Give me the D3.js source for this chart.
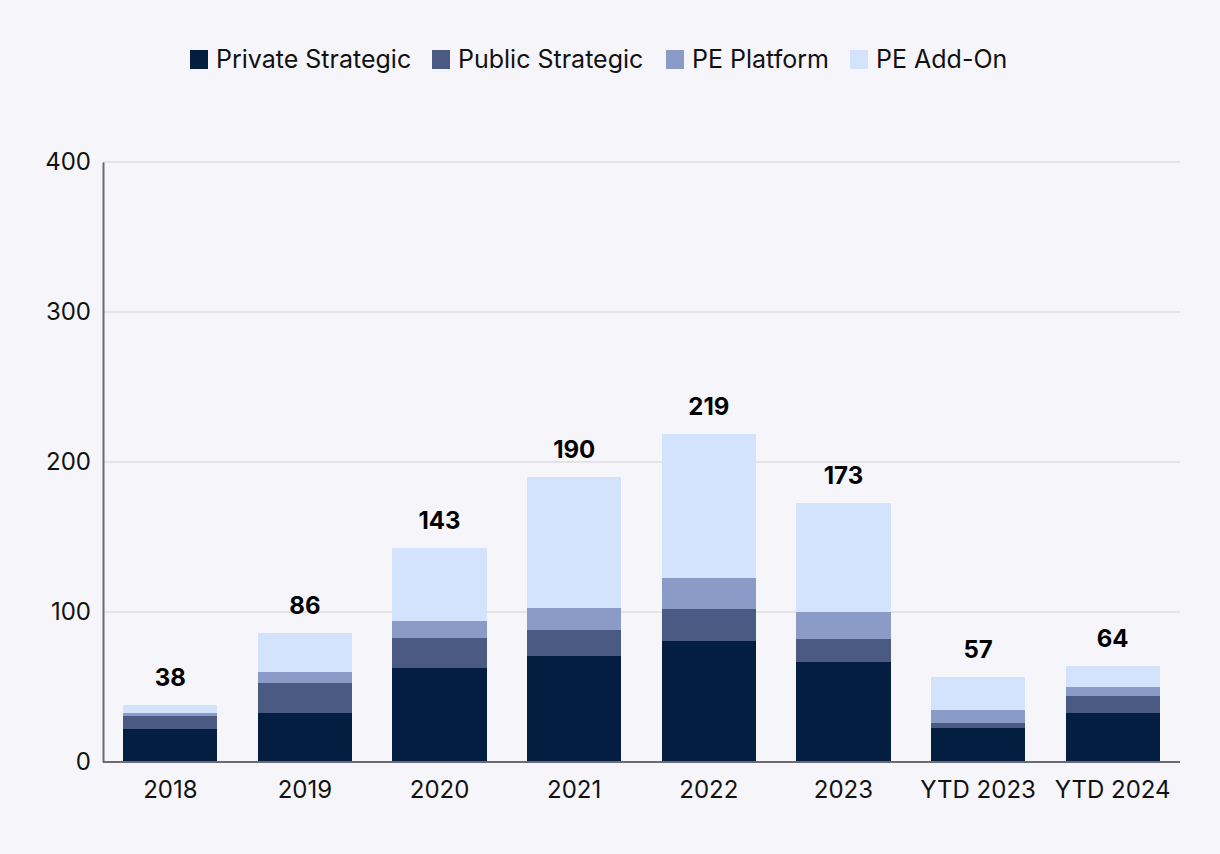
<!DOCTYPE html>
<html>
<head>
<meta charset="utf-8">
<script src="https://cdn.jsdelivr.net/npm/d3@7"></script>
<style>
  html, body { margin: 0; padding: 0; background: #f5f5fa; }
  svg { display: block; }
  text { font-family: Inter, "Noto Sans", sans-serif; }
</style>
</head>
<body>
<svg id="chart" width="1220" height="854"></svg>
<script>
const categories = ["2018", "2019", "2020", "2021", "2022", "2023", "YTD 2023", "YTD 2024"];
const seriesNames = ["Private Strategic", "Public Strategic", "PE Platform", "PE Add-On"];
const privateStrategic = [22, 33, 63, 71, 81, 67, 23, 33];
const publicStrategic  = [9, 20, 20, 17, 21, 15, 3, 11];
const pePlatform       = [2, 7, 11, 15, 21, 18, 9, 6];
const peAddOn          = [5, 26, 49, 87, 96, 73, 22, 14];
const totals           = [38, 86, 143, 190, 219, 173, 57, 64];
const yTicks = [0, 100, 200, 300, 400];
const colors = ["#041e42", "#4a5a82", "#8b9bc8", "#d3e2fd"];

const svg = d3.select("#chart");
const margin = { left: 103, right: 40, top: 162, bottom: 92 };
const W = 1220, H = 854;
const x0 = margin.left, x1 = W - margin.right;
const y0 = H - margin.bottom, y1 = margin.top;

const rows = categories.map((c, i) => ({
  cat: c,
  "Private Strategic": privateStrategic[i],
  "Public Strategic": publicStrategic[i],
  "PE Platform": pePlatform[i],
  "PE Add-On": peAddOn[i],
  total: totals[i]
}));

const x = d3.scaleBand().domain(categories).range([x0, x1]).paddingInner(0.3).paddingOuter(0.15);
const y = d3.scaleLinear().domain([0, 400]).range([y0, y1]);
const color = d3.scaleOrdinal().domain(seriesNames).range(colors);

// gridlines
svg.append("g")
  .selectAll("line")
  .data(yTicks.filter(d => d > 0))
  .join("line")
  .attr("x1", x0).attr("x2", x1)
  .attr("y1", d => y(d)).attr("y2", d => y(d))
  .attr("stroke", "#dcdce2").attr("stroke-width", 1.5);

// bars
const stack = d3.stack().keys(seriesNames)(rows);
svg.append("g")
  .attr("shape-rendering", "crispEdges")
  .selectAll("g")
  .data(stack)
  .join("g")
  .attr("fill", d => color(d.key))
  .selectAll("rect")
  .data(d => d)
  .join("rect")
  .attr("x", d => x(d.data.cat))
  .attr("width", x.bandwidth())
  .attr("y", d => y(d[1]))
  .attr("height", d => y(d[0]) - y(d[1]));

// total labels
svg.append("g")
  .selectAll("text")
  .data(rows)
  .join("text")
  .attr("x", d => x(d.cat) + x.bandwidth() / 2)
  .attr("y", d => y(d.total) - 19)
  .attr("text-anchor", "middle")
  .attr("font-size", 24)
  .attr("font-weight", 700)
  .attr("fill", "#000")
  .text(d => d.total);

// y axis
const yAxis = svg.append("g")
  .attr("transform", `translate(${x0},0)`)
  .call(d3.axisLeft(y).tickValues(yTicks).tickSize(0).tickPadding(12));
yAxis.select(".domain").attr("stroke", "#6b6b72").attr("stroke-width", 2);
yAxis.selectAll("text").attr("font-size", 24).attr("fill", "#111").attr("font-family", "Inter, sans-serif");

// x axis
const xAxis = svg.append("g")
  .attr("transform", `translate(0,${y0})`)
  .call(d3.axisBottom(x).tickSize(0).tickPadding(19));
xAxis.select(".domain").attr("stroke", "#6b6b72").attr("stroke-width", 2)
  .attr("d", `M${x0},0H${x1}`);
xAxis.selectAll("text").attr("font-size", 24).attr("fill", "#111").attr("font-family", "Inter, sans-serif");

// legend
const legendX = [190, 432, 666, 850];
const legend = svg.append("g");
seriesNames.forEach((name, i) => {
  const g = legend.append("g").attr("transform", `translate(${legendX[i]},50)`);
  g.append("rect").attr("width", 18).attr("height", 19).attr("fill", colors[i]);
  g.append("text").attr("x", 26).attr("y", 18).attr("font-size", 25).attr("fill", "#111").text(name);
});
</script>
</body>
</html>
